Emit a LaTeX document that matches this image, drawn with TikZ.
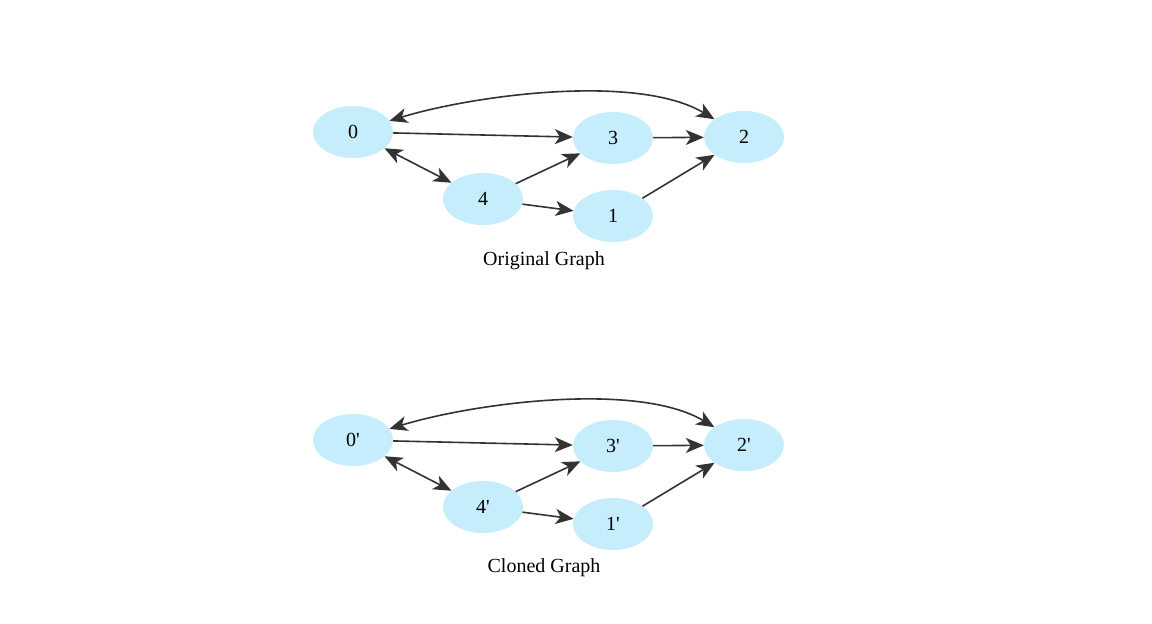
\documentclass[tikz,border=0pt]{standalone}
\usepackage{fontspec}
\setmainfont{Liberation Serif}
\usetikzlibrary{shapes.geometric,arrows.meta}
\definecolor{nodefill}{HTML}{C6EDFB}
\definecolor{edgecol}{HTML}{333333}
\newcommand{\pr}{\textquotesingle}
\tikzset{
  tip/.tip={Stealth[length=18pt,width=15pt,inset=5pt]},
  vertex/.style={ellipse, fill=nodefill, draw=none, minimum width=80pt, minimum height=52pt, inner sep=0pt, font=\fontsize{20}{24}\selectfont},
  edge/.style={draw=edgecol, line width=1.6pt, -tip},
  twoway/.style={draw=edgecol, line width=1.6pt, tip-tip},
  caption/.style={font=\fontsize{20}{24}\selectfont}
}
\begin{document}
\begin{tikzpicture}[x=1pt,y=-1pt]
\useasboundingbox (0,0) rectangle (1152,624);
\fill[white] (0,0) rectangle (1152,624);

% original graph
\node[vertex] (a0) at (353,132) {0};
\node[vertex] (a3) at (613,138) {3};
\node[vertex] (a2) at (744,137) {2};
\node[vertex] (a4) at (483,199) {4};
\node[vertex] (a1) at (613,216) {1};
\node[caption] (acap) at (544,261) {Original Graph};

\draw[edge] (a0) -- (a3);
\draw[edge] (a3) -- (a2);
\draw[edge] (a4) -- (a3);
\draw[edge] (a4) -- (a1);
\draw[edge] (a1) -- (a2);
\draw[twoway] (a0) -- (a4);
\draw[twoway] (a0) to[out=17,in=149,looseness=0.7] (a2);

% cloned graph
\node[vertex] (b0) at (353,440) {0\pr};
\node[vertex] (b3) at (613,446) {3\pr};
\node[vertex] (b2) at (744,445) {2\pr};
\node[vertex] (b4) at (483,507) {4\pr};
\node[vertex] (b1) at (613,524) {1\pr};
\node[caption] (bcap) at (544,568) {Cloned Graph};

\draw[edge] (b0) -- (b3);
\draw[edge] (b3) -- (b2);
\draw[edge] (b4) -- (b3);
\draw[edge] (b4) -- (b1);
\draw[edge] (b1) -- (b2);
\draw[twoway] (b0) -- (b4);
\draw[twoway] (b0) to[out=17,in=149,looseness=0.7] (b2);
\end{tikzpicture}
\end{document}
